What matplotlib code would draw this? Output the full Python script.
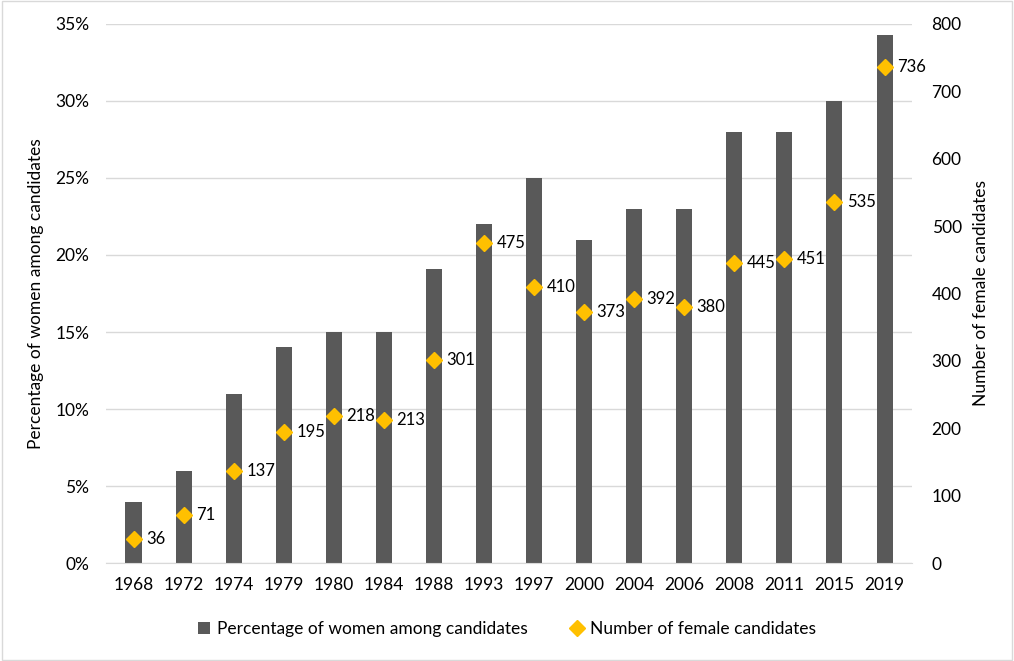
import matplotlib
matplotlib.use("Agg")
import matplotlib.pyplot as plt
from matplotlib.ticker import PercentFormatter
from matplotlib.patches import Rectangle
import numpy as np

plt.rcParams['font.family'] = ['Lato', 'DejaVu Sans']

# 数据
years = ['1968', '1972', '1974', '1979', '1980', '1984', '1988', '1993',
         '1997', '2000', '2004', '2006', '2008', '2011', '2015', '2019']
pct_women = [4, 6, 11, 14, 15, 15, 19.1, 22, 25, 21, 23, 23, 28, 28, 30, 34.3]
num_women = [36, 71, 137, 195, 218, 213, 301, 475, 410, 373, 392, 380, 445, 451, 535, 736]

bar_color = '#595959'
dot_color = '#FFC000'
grid_color = '#D9D9D9'

fig = plt.figure(figsize=(10.14, 6.61), dpi=100)
ax = fig.add_axes([0.1045, 0.148, 0.795, 0.816])
ax2 = ax.twinx()

x = np.arange(len(years))
ax.bar(x, pct_women, width=0.32, color=bar_color, zorder=2,
       label='Percentage of women among candidates')
ax.set_ylim(0, 35)
ax.set_yticks(range(0, 36, 5))
ax.yaxis.set_major_formatter(PercentFormatter(decimals=0))
ax.set_xlim(-0.55, len(years) - 0.45)
ax.set_xticks(x)
ax.set_xticklabels(years)
ax.grid(axis='y', color=grid_color, linewidth=1, zorder=0)
ax.set_axisbelow(True)

ax2.plot(x, num_women, linestyle='none', marker='D', markersize=8.5,
         color=dot_color, zorder=3, label='Number of female candidates')
for xi, v in zip(x, num_women):
    ax2.annotate(str(v), (xi, v), xytext=(9, 0), textcoords='offset points',
                 va='center', ha='left', fontsize=12, color='#000000')
ax2.set_ylim(0, 800)
ax2.set_yticks(range(0, 801, 100))

for a in (ax, ax2):
    for s in a.spines.values():
        s.set_visible(False)
    a.tick_params(length=0, labelsize=12.5, colors='#000000')
ax.spines['bottom'].set_visible(True)
ax.spines['bottom'].set_color(grid_color)
ax.tick_params(axis='x', pad=10)
ax.tick_params(axis='y', pad=12)
ax2.tick_params(axis='y', pad=14)

ax.set_ylabel('Percentage of women among candidates', fontsize=12.5, labelpad=8)
ax2.set_ylabel('Number of female candidates', fontsize=12.5, labelpad=8)

h1, l1 = ax.get_legend_handles_labels()
h2, l2 = ax2.get_legend_handles_labels()
fig.legend(h1 + h2, l1 + l2, loc='center', bbox_to_anchor=(0.5, 0.048), ncol=2,
           frameon=False, fontsize=12.5, handlelength=0.7, handletextpad=0.4,
           columnspacing=2.5)

# 外边框
fig.patches.append(Rectangle((0.002, 0.002), 0.996, 0.996, transform=fig.transFigure,
                             fill=False, edgecolor='#D9D9D9', linewidth=1))

fig.savefig('out.png', dpi=100)
